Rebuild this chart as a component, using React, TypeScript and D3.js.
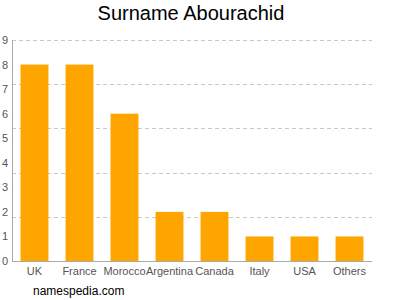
import React, { useEffect, useRef } from "react";
import * as d3 from "d3";

const categories = ["UK", "France", "Morocco", "Argentina", "Canada", "Italy", "USA", "Others"];
const values = [8, 8, 6, 2, 2, 1, 1, 1];
const yTicks = [0, 1, 2, 3, 4, 5, 6, 7, 8, 9];
const gridValues = [1.8, 3.6, 5.4, 7.2, 9];
const title = "Surname Abourachid";
const credit = "namespedia.com";

export default function App() {
  const ref = useRef<SVGSVGElement>(null);
  useEffect(() => {
    const svg = d3.select(ref.current);
    svg.selectAll("*").remove();
    const left = 12, right = 372, top = 40, bottom = 261;
    const x = d3.scaleBand().domain(categories).range([left, right]).paddingInner(0.38).paddingOuter(0.19);
    const y = d3.scaleLinear().domain([0, 9]).range([bottom, top]);
    const font = "Liberation Sans, Arial, sans-serif";

    svg.append("text").attr("x", 191).attr("y", 20).attr("text-anchor", "middle")
      .attr("font-family", font).attr("font-size", 20).attr("fill", "#000").text(title);

    svg.selectAll(".grid").data(gridValues).enter().append("line")
      .attr("x1", left).attr("x2", right)
      .attr("y1", d => Math.round(y(d)) + 0.5).attr("y2", d => Math.round(y(d)) + 0.5)
      .attr("stroke", "#c8c8c8").attr("stroke-dasharray", "4,3").attr("stroke-width", 1);

    svg.selectAll(".bar").data(values).enter().append("rect")
      .attr("x", (_, i) => x(categories[i])!)
      .attr("width", x.bandwidth())
      .attr("y", d => y(d))
      .attr("height", d => bottom - y(d))
      .attr("fill", "#ffa500");

    svg.append("line").attr("x1", left + 0.5).attr("x2", left + 0.5).attr("y1", top).attr("y2", bottom)
      .attr("stroke", "#aaa");
    svg.append("line").attr("x1", left).attr("x2", right).attr("y1", bottom + 0.5).attr("y2", bottom + 0.5)
      .attr("stroke", "#aaa");

    svg.selectAll(".ytick").data(yTicks).enter().append("text")
      .attr("x", 8).attr("y", d => y(d) + 4).attr("text-anchor", "end")
      .attr("font-family", font).attr("font-size", 11).attr("fill", "#555")
      .text(d => String(d));

    svg.selectAll(".xtick").data(categories).enter().append("text")
      .attr("x", d => x(d)! + x.bandwidth() / 2).attr("y", 275).attr("text-anchor", "middle")
      .attr("font-family", font).attr("font-size", 11).attr("fill", "#555")
      .text(d => d);

    svg.append("text").attr("x", 33).attr("y", 295)
      .attr("font-family", font).attr("font-size", 12).attr("fill", "#000").text(credit);
  }, []);
  return (
    <svg ref={ref} width={400} height={300}
      style={{ position: "absolute", left: 0, top: 0, background: "#fff" }} />
  );
}
